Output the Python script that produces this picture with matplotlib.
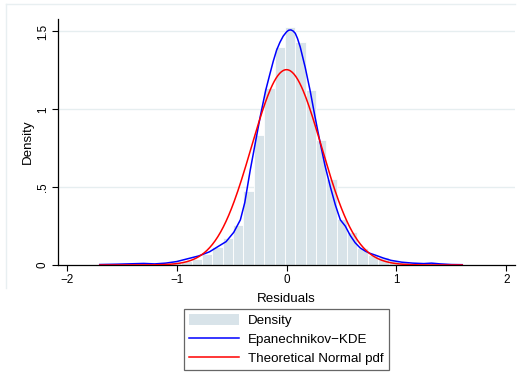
import numpy as np
import matplotlib
matplotlib.use("Agg")
import matplotlib.pyplot as plt
from matplotlib.lines import Line2D
from matplotlib.patches import Patch

plt.rcParams['font.family'] = ['Liberation Sans', 'DejaVu Sans']

# histogram of residuals (density scale), bars
bin_first_edge = -1.714
bin_width = 0.0944
bar_heights = [0.003, 0.003, 0.006, 0.009, 0.006, 0.009, 0.012, 0.018, 0.025,
               0.040, 0.072, 0.117, 0.172, 0.257, 0.476, 0.834, 1.136, 1.398,
               1.528, 1.433, 1.123, 0.805, 0.552, 0.295, 0.210, 0.112, 0.067,
               0.053, 0.032, 0.020, 0.012, 0.009, 0.012, 0.006, 0.003, 0.003]

# Epanechnikov kernel density estimate
kde_x = [-1.70, -1.55, -1.40, -1.30, -1.20, -1.10, -1.00, -0.90, -0.80, -0.70,
         -0.62, -0.55, -0.48, -0.42, -0.38, -0.33, -0.285, -0.24, -0.19, -0.15,
         -0.12, -0.09, -0.06, -0.03, 0.00, 0.02, 0.04, 0.06, 0.08, 0.10,
         0.125, 0.17, 0.215, 0.26, 0.305, 0.35, 0.40, 0.445, 0.49, 0.535,
         0.58, 0.625, 0.67, 0.72, 0.76, 0.81, 0.88, 0.95, 1.05, 1.15,
         1.25, 1.32, 1.40, 1.50, 1.60]
kde_y = [0.003, 0.005, 0.008, 0.010, 0.007, 0.012, 0.022, 0.040, 0.058, 0.085,
         0.120, 0.150, 0.210, 0.290, 0.400, 0.610, 0.780, 0.950, 1.120, 1.230,
         1.310, 1.380, 1.430, 1.470, 1.497, 1.508, 1.510, 1.503, 1.488, 1.455,
         1.400, 1.270, 1.120, 0.950, 0.790, 0.640, 0.500, 0.385, 0.290, 0.250,
         0.190, 0.143, 0.110, 0.088, 0.075, 0.063, 0.045, 0.030, 0.018, 0.012,
         0.009, 0.012, 0.007, 0.003, 0.002]

# theoretical normal (mean, sd of residuals)
norm_mean = 0.0
norm_sd = 0.318
norm_range = (-1.70, 1.60)

xticks = [-2, -1, 0, 1, 2]
xticklabels = ['\u22122', '\u22121', '0', '1', '2']
yticks = [0, 0.5, 1, 1.5]
yticklabels = ['0', '.5', '1', '1.5']

bar_color = '#d8e3e9'
grid_color = '#e6eef0'
frame_color = '#e8eff1'

fig = plt.figure(figsize=(5.29, 3.87), dpi=100)
W, H = 529, 387
ax = fig.add_axes([58 / W, 1 - 265 / H, (515 - 58) / W, (265 - 19) / H])

# faint outer region edges (top and left only)
fig.add_artist(Line2D([6 / W, 515 / W], [1 - 4 / H, 1 - 4 / H],
                      color=frame_color, linewidth=1.0))
fig.add_artist(Line2D([6 / W, 6 / W], [1 - 4 / H, 1 - 288 / H],
                      color=frame_color, linewidth=1.0))

left_edges = bin_first_edge + bin_width * np.arange(len(bar_heights))
ax.bar(left_edges, bar_heights, width=bin_width, align='edge',
       color=bar_color, edgecolor='white', linewidth=0.6, zorder=2)

ax.plot(kde_x, kde_y, color='#0000ff', linewidth=1.1, zorder=3)

xs = np.linspace(norm_range[0], norm_range[1], 400)
pdf = np.exp(-0.5 * ((xs - norm_mean) / norm_sd) ** 2) / (norm_sd * np.sqrt(2 * np.pi))
ax.plot(xs, pdf, color='#ff0000', linewidth=1.1, zorder=4)

ax.set_xlim(-2.08, 2.08)
ax.set_ylim(0, 1.58)
ax.set_xticks(xticks)
ax.set_xticklabels(xticklabels, fontsize=8.4)
ax.set_yticks(yticks)
ax.set_yticklabels(yticklabels, fontsize=8.4, rotation=90, va='center')
ax.tick_params(axis='both', length=4, width=0.8, color='black', pad=2.5)
for v in yticks[1:]:
    ax.axhline(v, color=grid_color, linewidth=1.0, zorder=1)

ax.spines['top'].set_visible(False)
ax.spines['right'].set_visible(False)
ax.spines['left'].set_linewidth(0.9)
ax.spines['bottom'].set_linewidth(0.9)

ax.set_xlabel('Residuals', fontsize=9.6, labelpad=5)
ax.set_ylabel('Density', fontsize=9.6, labelpad=2)

handles = [Patch(facecolor=bar_color, edgecolor='none'),
           Line2D([], [], color='#0000ff', linewidth=1.1),
           Line2D([], [], color='#ff0000', linewidth=1.1)]
labels = ['Density', 'Epanechnikov\u2212KDE', 'Theoretical Normal pdf']
leg = fig.legend(handles, labels, loc='upper center',
                 bbox_to_anchor=(286.5 / W, 1 - 309 / H), borderaxespad=0,
                 fontsize=9.6, frameon=True, fancybox=False,
                 handlelength=3.7, handleheight=0.9, handletextpad=0.7,
                 labelspacing=0.42, borderpad=0.4)
leg.get_frame().set_edgecolor('#404040')
leg.get_frame().set_linewidth(0.9)

fig.savefig('out.png', dpi=100)
